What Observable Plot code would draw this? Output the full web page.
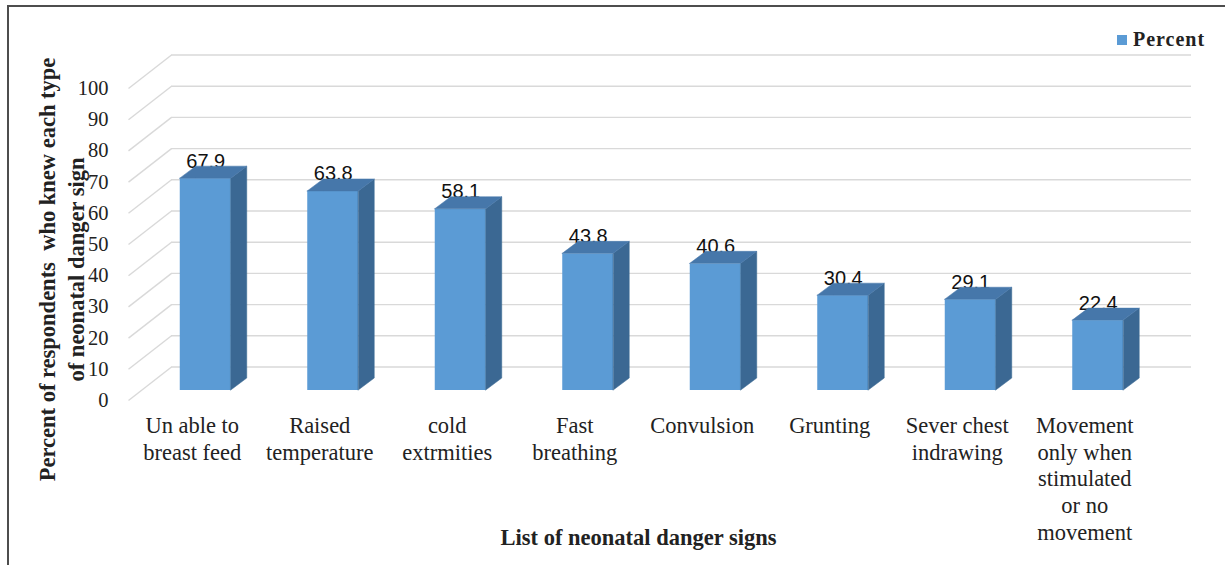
<!DOCTYPE html>
<html>
<head>
<meta charset="utf-8">
<script src="https://cdn.jsdelivr.net/npm/d3@7"></script>
<script src="https://cdn.jsdelivr.net/npm/@observablehq/plot@0.6"></script>
<style>
  html, body { margin: 0; padding: 0; background: #fff; overflow: hidden; }
  #wrap { position: relative; width: 1226px; height: 565px; }
  #border { position: absolute; left: 7px; top: 5px; width: 1216px; height: 600px;
            border-left: 2px solid #4d4d4d; border-top: 2px solid #4d4d4d; }
  #chart { position: absolute; left: 0; top: 0; }
  #legend { position: absolute; left: 1117px; top: 28px; display: flex; align-items: center;
            font-family: "Liberation Serif", "Times New Roman", serif; font-weight: bold;
            font-size: 20px; letter-spacing: 1px; color: #222; }
  #legend .swatch { width: 10px; height: 10px; background: #5b9bd5; margin-right: 6px; }
</style>
</head>
<body>
<div id="wrap">
  <div id="border"></div>
  <div id="chart"></div>
  <div id="legend"><span class="swatch"></span><span>Percent</span></div>
</div>
<script>
// Neonatal danger signs known by respondents (percent)
const categories = [
  "Un able to\nbreast feed",
  "Raised\ntemperature",
  "cold\nextrmities",
  "Fast\nbreathing",
  "Convulsion",
  "Grunting",
  "Sever chest\nindrawing",
  "Movement\nonly when\nstimulated\nor no\nmovement"
];
const percents = [67.9, 63.8, 58.1, 43.8, 40.6, 30.4, 29.1, 22.4];
const yTicks = [0, 10, 20, 30, 40, 50, 60, 70, 80, 90, 100];

const xTitle = "List of neonatal danger signs";
const yTitle = "Percent of respondents  who knew each type\nof neonatal danger sign";

// Layout (front plane of the 3D box)
const W = 1226, H = 565;
const M = {top: 88, right: 78, bottom: 165, left: 128};
const pxPerCat = (W - M.left - M.right) / categories.length;
const pxPerPct = (H - M.top - M.bottom) / 100;

// Oblique depth: back wall offset and bar geometry, in pixels
const wallDepth = {x: 43, y: 33.5};
const barShift = {x: 13.5, y: 10};   // bars sit a little behind the front plane
const barDepth = {x: 16, y: 12};
const barWidth = 51 / pxPerCat;       // in category units
const bdx = barDepth.x / pxPerCat, bdy = barDepth.y / pxPerPct;

const colors = {front: "#5b9bd5", side: "#3b6893", top: "#4677aa", grid: "#d9d9d9"};
const serif = "'Liberation Serif', 'Times New Roman', serif";
const sans = "'Liberation Sans', Arial, sans-serif";

const bars = percents.map((v, i) => ({i, v, label: categories[i]}));

const sideFaces = bars.flatMap(({i, v}) => [
  {i, x: i + barWidth / 2, y1: 0, y2: v},
  {i, x: i + barWidth / 2 + bdx, y1: bdy, y2: v + bdy}
]);
const topFaces = bars.flatMap(({i, v}) => {
  const L = i - barWidth / 2, R = i + barWidth / 2;
  return [
    {i, x: L, y1: v, y2: v},
    {i, x: L + bdx, y1: v, y2: v + bdy},
    {i, x: R, y1: v, y2: v + bdy},
    {i, x: R + bdx, y1: v + bdy, y2: v + bdy}
  ];
});

const wallDX = wallDepth.x / pxPerCat, wallDY = wallDepth.y / pxPerPct;
const x0 = -0.5;
const wallLines = yTicks.map(v => ({x1: x0, y1: v, x2: x0 + wallDX, y2: v + wallDY}));

const chart = Plot.plot({
  width: W,
  height: H,
  marginTop: M.top,
  marginRight: M.right,
  marginBottom: M.bottom,
  marginLeft: M.left,
  x: {type: "linear", domain: [-0.5, categories.length - 0.5], axis: null},
  y: {type: "linear", domain: [0, 100], axis: null},
  style: {background: "transparent", overflow: "visible"},
  marks: [
    // back wall gridlines
    Plot.ruleY(yTicks, {y: d => d, dx: wallDepth.x, dy: -wallDepth.y, stroke: colors.grid, strokeWidth: 1.4}),
    // side wall diagonals
    Plot.link(wallLines, {x1: "x1", y1: "y1", x2: "x2", y2: "y2", stroke: colors.grid, strokeWidth: 1.4}),
    // y tick labels
    Plot.text(yTicks, {
      y: d => d, text: d => String(d), frameAnchor: "left", textAnchor: "end", dx: -20,
      fontSize: 20.5, fontFamily: serif, fill: "#222"
    }),
    // value labels (tucked just behind the bar tops)
    Plot.text(bars, {
      x: "i", y: d => d.v + bdy, text: d => d.v.toFixed(1),
      dx: barShift.x, dy: -barShift.y + 1, lineAnchor: "bottom",
      fontSize: 20, fontFamily: sans, fill: "#111"
    }),
    // bars: front, side, top faces
    Plot.rect(bars, {
      x1: d => d.i - barWidth / 2, x2: d => d.i + barWidth / 2, y1: () => 0, y2: "v",
      dx: barShift.x, dy: -barShift.y, fill: colors.front
    }),
    Plot.areaY(sideFaces, {
      x: "x", y1: "y1", y2: "y2", z: "i",
      dx: barShift.x, dy: -barShift.y, fill: colors.side, stroke: colors.side, strokeWidth: 0.5
    }),
    Plot.areaY(topFaces, {
      x: "x", y1: "y1", y2: "y2", z: "i",
      dx: barShift.x, dy: -barShift.y, fill: colors.top, stroke: colors.top, strokeWidth: 0.5
    }),
    // category labels
    Plot.text(bars, {
      x: "i", text: "label", frameAnchor: "bottom", lineAnchor: "top", dy: 14,
      lineHeight: 1.18, fontSize: 22.5, fontFamily: serif, fill: "#222"
    }),
    // axis titles
    Plot.text([xTitle], {
      text: d => d, frameAnchor: "bottom", lineAnchor: "middle", dy: 137,
      fontSize: 22.5, fontWeight: "bold", fontFamily: serif, fill: "#222"
    }),
    Plot.text([yTitle], {
      text: d => d, frameAnchor: "left", textAnchor: "middle", lineAnchor: "middle", rotate: -90,
      dx: -68, dy: 25, lineHeight: 1.3,
      fontSize: 22.5, fontWeight: "bold", fontFamily: serif, fill: "#222"
    })
  ]
});

document.getElementById("chart").appendChild(chart);
</script>
</body>
</html>
